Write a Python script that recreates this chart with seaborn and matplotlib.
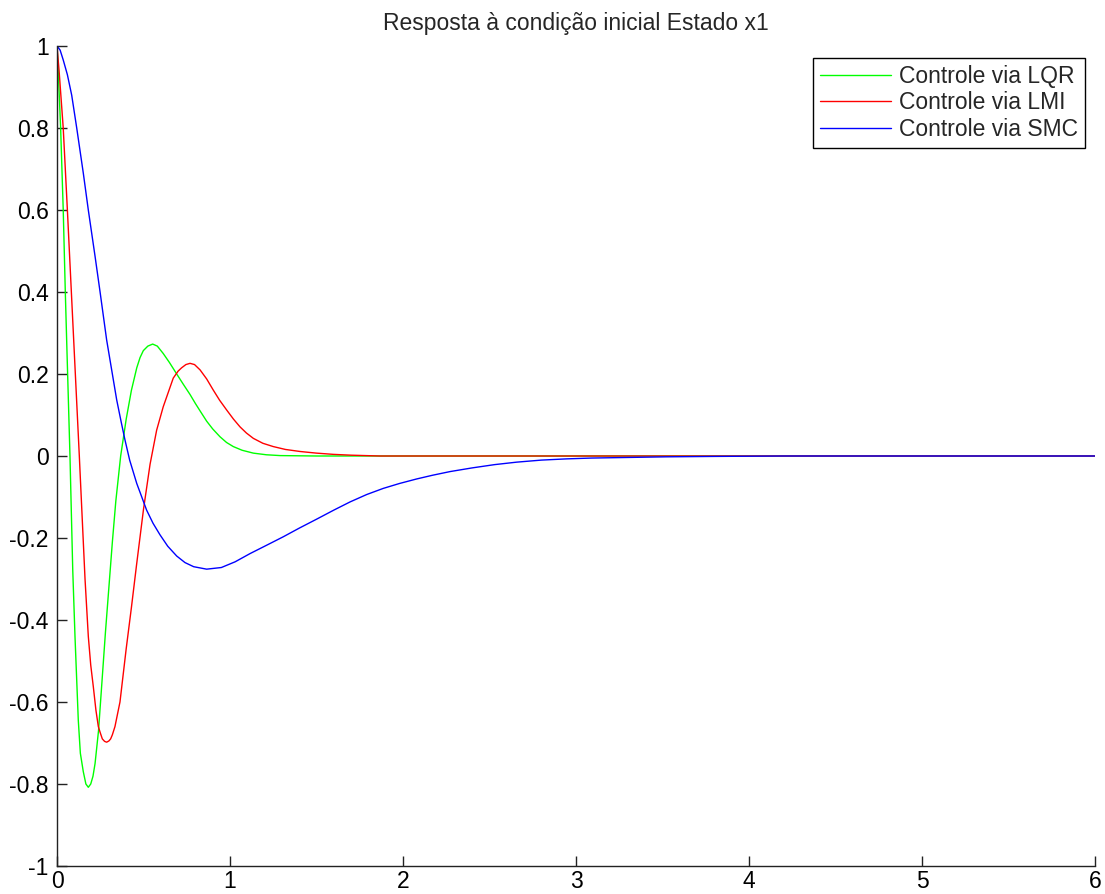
import numpy as np
import pandas as pd
import matplotlib
matplotlib.use("Agg")
import matplotlib.pyplot as plt
import seaborn as sns

# Initial-condition response of state x1 for three controllers
t_lqr = [0.0, 0.008, 0.021, 0.036, 0.048, 0.056, 0.075, 0.091, 0.104, 0.123,
         0.135, 0.152, 0.167, 0.181, 0.195, 0.208, 0.220, 0.240, 0.260, 0.280,
         0.300, 0.320, 0.340, 0.368, 0.400, 0.430, 0.461, 0.480, 0.499, 0.525,
         0.553, 0.580, 0.614, 0.650, 0.692, 0.730, 0.769, 0.800, 0.827, 0.865,
         0.900, 0.942, 0.980, 1.019, 1.070, 1.135, 1.210, 1.290, 1.500, 2.000,
         6.0]
x1_lqr = [1.0, 0.93, 0.80, 0.60, 0.40, 0.28, 0.0, -0.278, -0.44, -0.644,
          -0.725, -0.77, -0.80, -0.808, -0.80, -0.781, -0.75, -0.67, -0.55, -0.43,
          -0.32, -0.21, -0.11, 0.0, 0.09, 0.16, 0.215, 0.24, 0.257, 0.268,
          0.273, 0.268, 0.25, 0.228, 0.20, 0.175, 0.15, 0.128, 0.11, 0.085,
          0.066, 0.047, 0.033, 0.023, 0.014, 0.007, 0.003, 0.001, 0.0, 0.0,
          0.0]

t_lmi = [0.0, 0.012, 0.036, 0.060, 0.083, 0.106, 0.129, 0.151, 0.162, 0.181,
         0.195, 0.210, 0.225, 0.239, 0.250, 0.262, 0.275, 0.287, 0.300, 0.310,
         0.320, 0.335, 0.364, 0.400, 0.430, 0.460, 0.500, 0.538, 0.576, 0.614,
         0.672, 0.700, 0.720, 0.745, 0.769, 0.795, 0.827, 0.865, 0.903, 0.940,
         0.981, 1.020, 1.058, 1.095, 1.135, 1.190, 1.250, 1.320, 1.405, 1.500,
         1.597, 1.700, 1.867, 6.0]
x1_lmi = [1.0, 0.94, 0.80, 0.60, 0.40, 0.20, 0.0, -0.20, -0.30, -0.44,
          -0.51, -0.563, -0.62, -0.66, -0.675, -0.69, -0.696, -0.698, -0.695, -0.69,
          -0.68, -0.66, -0.60, -0.47, -0.37, -0.265, -0.13, -0.02, 0.063, 0.12,
          0.19, 0.207, 0.215, 0.223, 0.226, 0.223, 0.21, 0.188, 0.161, 0.136,
          0.112, 0.09, 0.071, 0.056, 0.043, 0.031, 0.023, 0.016, 0.011, 0.007,
          0.004, 0.002, 0.0, 0.0]

t_smc = [0.0, 0.018, 0.036, 0.060, 0.085, 0.114, 0.152, 0.181, 0.220, 0.249,
         0.287, 0.320, 0.345, 0.370, 0.393, 0.420, 0.461, 0.490, 0.518, 0.555,
         0.595, 0.640, 0.692, 0.740, 0.790, 0.865, 0.950, 1.030, 1.116, 1.210,
         1.308, 1.400, 1.501, 1.600, 1.694, 1.790, 1.886, 1.980, 2.079, 2.170,
         2.272, 2.400, 2.530, 2.657, 2.800, 2.946, 3.090, 3.235, 3.524, 3.800,
         4.200, 6.0]
x1_smc = [1.0, 0.99, 0.966, 0.93, 0.88, 0.80, 0.69, 0.60, 0.487, 0.40,
          0.283, 0.20, 0.137, 0.085, 0.039, -0.01, -0.067, -0.10, -0.132, -0.164,
          -0.192, -0.22, -0.244, -0.26, -0.27, -0.276, -0.272, -0.258, -0.238, -0.218,
          -0.197, -0.176, -0.154, -0.132, -0.112, -0.094, -0.079, -0.067, -0.056, -0.047,
          -0.038, -0.029, -0.021, -0.015, -0.010, -0.007, -0.005, -0.004, -0.002, -0.001,
          0.0, 0.0]

labels = ["Controle via LQR", "Controle via LMI", "Controle via SMC"]
colors = ["#00ff00", "#ff0000", "#0000ff"]
y_ticks = [-1, -0.8, -0.6, -0.4, -0.2, 0, 0.2, 0.4, 0.6, 0.8, 1]
y_tick_labels = ["-1", "-0.8", "-0.6", "-0.4", "-0.2", "0", "0.2", "0.4", "0.6", "0.8", "1"]
x_ticks = [0, 1, 2, 3, 4, 5, 6]

sns.set_style("ticks")
plt.rcParams["font.family"] = ["Liberation Sans", "DejaVu Sans"]

frames = []
for name, t, x in zip(labels, [t_lqr, t_lmi, t_smc], [x1_lqr, x1_lmi, x1_smc]):
    frames.append(pd.DataFrame({"t": t, "x1": x, "controle": name}))
df = pd.concat(frames, ignore_index=True)

W, H = 1105, 894
fig = plt.figure(figsize=(W / 100, H / 100), dpi=100)
ax = fig.add_axes([57 / W, 1 - 866 / H, (1095 - 57) / W, (866 - 46) / H])

sns.lineplot(data=df, x="t", y="x1", hue="controle", hue_order=labels,
             palette=dict(zip(labels, colors)), estimator=None, sort=False,
             linewidth=1.0, ax=ax, legend=False)

ax.set_xlim(0, 6)
ax.set_ylim(-1, 1)
ax.set_xticks(x_ticks)
ax.set_xticklabels([str(v) for v in x_ticks])
ax.set_yticks(y_ticks)
ax.set_yticklabels(y_tick_labels)
ax.set_xlabel("")
ax.set_ylabel("")
ax.tick_params(direction="in", length=7, width=1, labelsize=16.5, pad=6,
               colors="#222222", labelcolor="black")
ax.tick_params(axis="x", pad=3)
sns.despine(ax=ax)
for side in ("left", "bottom"):
    ax.spines[side].set_color("#222222")
    ax.spines[side].set_linewidth(1.0)

ax.set_title("Resposta à condição inicial Estado x1", fontsize=16.5, pad=11.5)

leg = ax.legend(ax.get_lines()[:3], labels, loc="upper right",
                bbox_to_anchor=(0.9904, 0.9854), borderaxespad=0,
                fancybox=False, edgecolor="black", framealpha=1,
                fontsize=16.5, handlelength=3.1, handletextpad=0.35,
                labelspacing=0.15, borderpad=0.3)
leg.get_frame().set_linewidth(1.0)

fig.savefig("out.png", dpi=100)
